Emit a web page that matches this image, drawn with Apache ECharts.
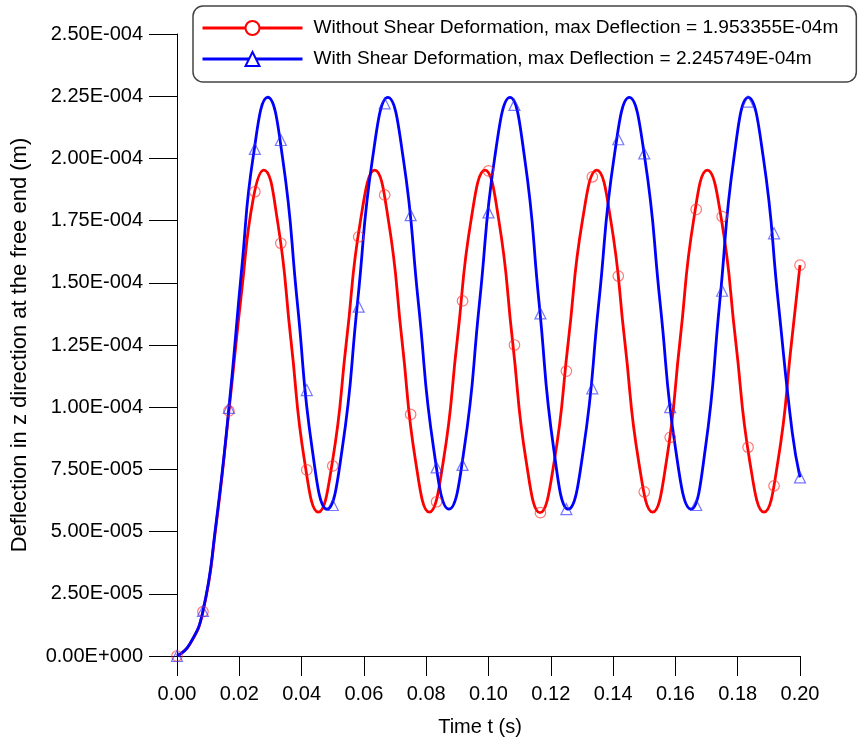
<!DOCTYPE html>
<html>
<head>
<meta charset="utf-8">
<script src="https://cdn.jsdelivr.net/npm/echarts@6/dist/echarts.min.js"></script>
<style>html,body{margin:0;padding:0;background:#fff;}#c{width:858px;height:742px;}</style>
</head>
<body>
<div id="c"></div>
<script>
const legendNames = [
  'Without Shear Deformation, max Deflection = 1.953355E-04m',
  'With Shear Deformation, max Deflection = 2.245749E-04m'
];
const xTicks = [0, 0.02, 0.04, 0.06, 0.08, 0.10, 0.12, 0.14, 0.16, 0.18, 0.20];
const yTicks = [0, 2.5e-5, 5e-5, 7.5e-5, 1e-4, 1.25e-4, 1.5e-4, 1.75e-4, 2e-4, 2.25e-4, 2.5e-4];

// Curve without shear deformation (time s, deflection m)
const redT = [0, 0.004, 0.00833, 0.0125, 0.01667, 0.0208, 0.0245, 0.02783,
  0.03221, 0.0366, 0.04098, 0.04536,
  0.04989, 0.05442, 0.05894, 0.06347,
  0.06785, 0.07224, 0.07662, 0.0810,
  0.08547, 0.08994, 0.09441, 0.09888,
  0.10329, 0.10771, 0.11212, 0.11653,
  0.12108, 0.12564, 0.13019, 0.13474,
  0.13923, 0.14373, 0.14822, 0.15271,
  0.15709, 0.16148, 0.16586, 0.17024,
  0.17479, 0.17934, 0.18389, 0.18844,
  0.19289, 0.19734, 0.2];
const redV = [0, 0.045e-4, 0.178e-4, 0.52e-4, 0.985e-4, 1.47e-4, 1.84e-4, 1.953e-4,
  1.753e-4, 1.267e-4, 0.781e-4, 0.578e-4,
  0.781e-4, 1.267e-4, 1.753e-4, 1.953e-4,
  1.753e-4, 1.267e-4, 0.781e-4, 0.578e-4,
  0.781e-4, 1.267e-4, 1.753e-4, 1.953e-4,
  1.753e-4, 1.267e-4, 0.781e-4, 0.576e-4,
  0.781e-4, 1.267e-4, 1.753e-4, 1.953e-4,
  1.753e-4, 1.267e-4, 0.781e-4, 0.578e-4,
  0.781e-4, 1.267e-4, 1.753e-4, 1.953e-4,
  1.753e-4, 1.267e-4, 0.781e-4, 0.578e-4,
  0.781e-4, 1.267e-4, 1.571e-4];

// Curve with shear deformation
const blueT = [0, 0.004, 0.00833, 0.0125, 0.01667, 0.0208, 0.0245, 0.02912,
  0.03388, 0.03864, 0.04339, 0.04815,
  0.05304, 0.05793, 0.06281, 0.0677,
  0.0726, 0.0775, 0.0824, 0.0873,
  0.0922, 0.0971, 0.102, 0.1069,
  0.11158, 0.11625, 0.12093, 0.1256,
  0.1305, 0.1354, 0.1403, 0.1452,
  0.15015, 0.1551, 0.16005, 0.165,
  0.1696, 0.1742, 0.1788, 0.1834,
  0.18823, 0.19305, 0.1975, 0.2];
const blueV = [0, 0.046e-4, 0.181e-4, 0.53e-4, 0.997e-4, 1.56e-4, 2.01e-4, 2.2457e-4,
  2.003e-4, 1.418e-4, 0.833e-4, 0.59e-4,
  0.833e-4, 1.418e-4, 2.003e-4, 2.245e-4,
  2.003e-4, 1.418e-4, 0.833e-4, 0.59e-4,
  0.833e-4, 1.418e-4, 2.003e-4, 2.245e-4,
  2.003e-4, 1.418e-4, 0.833e-4, 0.59e-4,
  0.833e-4, 1.418e-4, 2.003e-4, 2.245e-4,
  2.003e-4, 1.418e-4, 0.833e-4, 0.59e-4,
  0.833e-4, 1.418e-4, 2.003e-4, 2.245e-4,
  2.003e-4, 1.418e-4, 0.90e-4, 0.718e-4];

// Marker samples
const markerT = [0, 0.00833, 0.01667, 0.025, 0.03333, 0.04167, 0.05, 0.05833, 0.06667, 0.075, 0.08333, 0.09167, 0.1,
  0.10833, 0.11667, 0.125, 0.13333, 0.14167, 0.15, 0.15833, 0.16667, 0.175, 0.18333, 0.19167, 0.2];
const redMarkV = [0, 0.178e-4, 0.985e-4, 1.866e-4, 1.659e-4, 0.748e-4, 0.764e-4, 1.685e-4, 1.853e-4, 0.971e-4, 0.620e-4, 1.427e-4, 1.950e-4,
  1.250e-4, 0.576e-4, 1.145e-4, 1.926e-4, 1.527e-4, 0.660e-4, 0.879e-4, 1.795e-4, 1.766e-4, 0.839e-4, 0.684e-4, 1.571e-4];
const blueMarkV = [0, 0.181e-4, 0.997e-4, 2.038e-4, 2.074e-4, 1.069e-4, 0.607e-4, 1.404e-4, 2.221e-4, 1.772e-4, 0.758e-4, 0.768e-4, 1.783e-4,
  2.215e-4, 1.377e-4, 0.590e-4, 1.076e-4, 2.077e-4, 2.020e-4, 1.000e-4, 0.607e-4, 1.468e-4, 2.228e-4, 1.699e-4, 0.718e-4];

const zip = (a, b) => a.map((x, i) => [x, b[i]]);
const FONT = '"Liberation Sans", Arial, sans-serif';

function fmtY(v) {
  if (Math.abs(v) < 1e-12) return '0.00E+000';
  const s = v.toExponential(2);
  const [m, e] = s.split('e');
  const n = parseInt(e, 10);
  const sign = n < 0 ? '-' : '+';
  return m + 'E' + sign + String(Math.abs(n)).padStart(3, '0');
}

const chart = echarts.init(document.getElementById('c'), null, {renderer: 'canvas'});
chart.setOption({
  animation: false,
  backgroundColor: '#fff',
  grid: {left: 177, right: 58, top: 34, bottom: 86, containLabel: false},
  legend: {
    data: legendNames,
    orient: 'vertical',
    left: 193, top: 6,
    itemWidth: 100, itemHeight: 17.5, itemGap: 9,
    padding: [11, 18, 12, 8],
    borderColor: '#444', borderWidth: 1.5, borderRadius: 10,
    lineStyle: {width: 3},
    textStyle: {fontFamily: FONT, fontSize: 19.1, color: '#000', lineHeight: 22, padding: [0, 0, 0, 6]}
  },
  xAxis: {
    type: 'value', min: xTicks[0], max: xTicks[xTicks.length - 1], interval: 0.02,
    name: 'Time t (s)', nameLocation: 'middle', nameGap: 61,
    nameTextStyle: {fontFamily: FONT, fontSize: 20, color: '#000', padding: [0, 17, 0, 0]},
    axisLine: {lineStyle: {color: '#000', width: 1}},
    axisTick: {inside: false, length: 20, lineStyle: {color: '#000', width: 1}},
    axisLabel: {fontFamily: FONT, fontSize: 20, color: '#000', margin: 28, formatter: v => v.toFixed(2)},
    splitLine: {show: false}
  },
  yAxis: {
    type: 'value', min: yTicks[0], max: yTicks[yTicks.length - 1], interval: 2.5e-5,
    name: 'Deflection in z direction at the free end (m)', nameLocation: 'middle', nameGap: 146,
    nameTextStyle: {fontFamily: FONT, fontSize: 22, color: '#000'},
    axisLine: {lineStyle: {color: '#000', width: 1}},
    axisTick: {inside: false, length: 28, lineStyle: {color: '#000', width: 1}},
    axisLabel: {fontFamily: FONT, fontSize: 20, color: '#000', margin: 34, formatter: fmtY},
    splitLine: {show: false}
  },
  series: [
    {
      name: legendNames[0], type: 'line', smooth: 0.5, showSymbol: false,
      symbol: 'emptyCircle', data: zip(redT, redV),
      lineStyle: {color: '#ff0000', width: 2.8}, itemStyle: {color: '#ff0000'}, z: 2
    },
    {
      name: legendNames[1], type: 'line', smooth: 0.5, showSymbol: false,
      symbol: 'emptyTriangle', data: zip(blueT, blueV),
      lineStyle: {color: '#0000ff', width: 2.8}, itemStyle: {color: '#0000ff'}, z: 3
    },
    {
      name: legendNames[0], type: 'scatter', symbol: 'circle', symbolSize: 10.5,
      data: zip(markerT, redMarkV),
      itemStyle: {color: 'rgba(0,0,0,0)', borderColor: 'rgba(255,40,40,0.8)', borderWidth: 1.2}, z: 4
    },
    {
      name: legendNames[1], type: 'scatter', symbol: 'triangle', symbolSize: 11,
      data: zip(markerT, blueMarkV),
      itemStyle: {color: 'rgba(0,0,0,0)', borderColor: 'rgba(40,40,255,0.8)', borderWidth: 1.2}, z: 5
    }
  ]
});
</script>
</body>
</html>
